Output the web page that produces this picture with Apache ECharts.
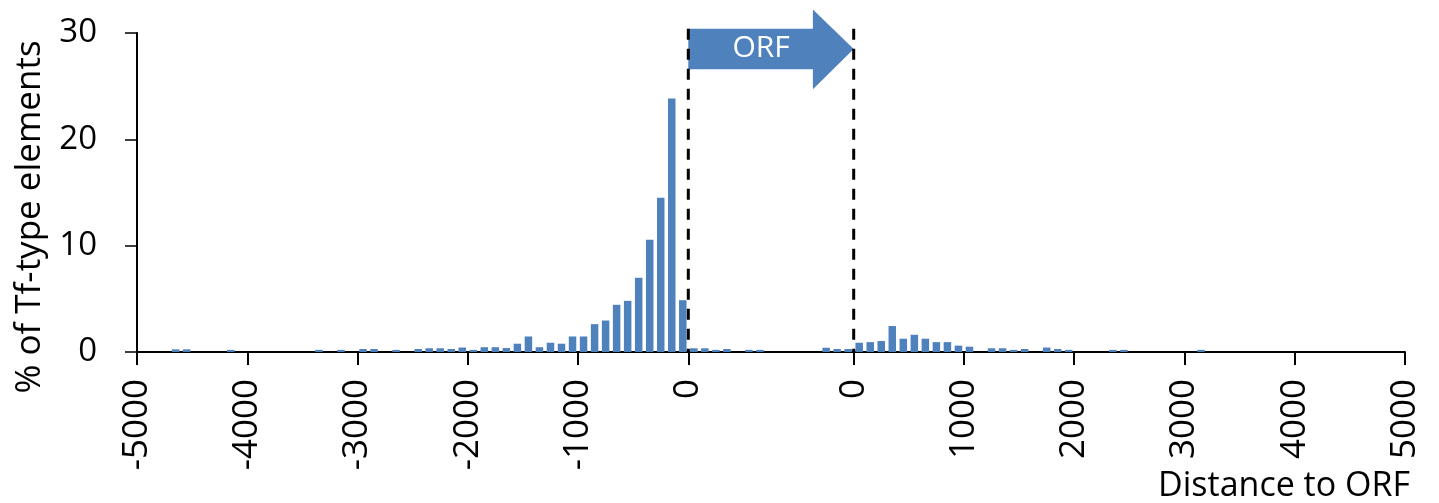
<!DOCTYPE html>
<html>
<head>
<meta charset="utf-8">
<script src="https://cdn.jsdelivr.net/npm/echarts@6/dist/echarts.min.js"></script>
<style>
html,body{margin:0;padding:0;background:#fff;}
#chart{width:1439px;height:503px;}
</style>
</head>
<body>
<div id="chart"></div>
<script>
// Bin width 100 bp; bins given by their centre distance
const ORF_LENGTH = 1500; // axis space used for the ORF gap

// Upstream of ORF start: centres -4950 ... -50
const upstreamPct = [
  0, 0, 0, 0.25, 0.25, 0, 0, 0, 0.2, 0,
  0, 0, 0, 0, 0, 0, 0.2, 0, 0.2, 0,
  0.28, 0.28, 0, 0.2, 0, 0.28, 0.35, 0.35, 0.28, 0.42,
  0.2, 0.45, 0.45, 0.37, 0.78, 1.46, 0.45, 0.87, 0.78, 1.46,
  1.46, 2.62, 2.96, 4.44, 4.81, 6.98, 10.55, 14.5, 23.85, 4.87
];
// Inside the ORF: centres 50 ... 1450
const orfPct = [
  0.35, 0.35, 0.2, 0.28, 0, 0.2, 0.2, 0, 0, 0,
  0, 0, 0.4, 0.28, 0.28
];
// Downstream of ORF end: centres 50 ... 4950
const downstreamPct = [
  0.87, 0.93, 1.03, 2.44, 1.25, 1.62, 1.25, 0.93, 0.93, 0.6,
  0.5, 0, 0.35, 0.35, 0.2, 0.28, 0, 0.42, 0.28, 0.2,
  0, 0, 0, 0.2, 0.2, 0, 0, 0, 0, 0,
  0, 0.2, 0, 0, 0, 0, 0, 0, 0, 0,
  0, 0, 0, 0, 0, 0, 0, 0, 0, 0
];
const upstreamTicks = [-5000, -4000, -3000, -2000, -1000, 0];
const downstreamTicks = [0, 1000, 2000, 3000, 4000, 5000];
const yTicks = [0, 10, 20, 30];

const BLUE = '#4F81BD';
const FONT = 'Open Sans';

const barData = [];
upstreamPct.forEach((v, i) => barData.push([-4950 + 100 * i, v]));
orfPct.forEach((v, i) => barData.push([50 + 100 * i, v]));
downstreamPct.forEach((v, i) => barData.push([ORF_LENGTH + 50 + 100 * i, v]));

const tickPositions = upstreamTicks.concat(downstreamTicks.map(t => t + ORF_LENGTH));

const chart = echarts.init(document.getElementById('chart'), null, {renderer: 'canvas'});
const option = {
  animation: false,
  backgroundColor: '#fff',
  grid: {left: 137, right: 34, top: 33, bottom: 151, containLabel: false},
  xAxis: {
    type: 'value',
    min: -5000,
    max: 5000 + ORF_LENGTH,
    splitLine: {show: false},
    axisLine: {show: true, onZero: false, lineStyle: {color: '#000', width: 2}},
    axisTick: {show: true, inside: false, length: 13, lineStyle: {color: '#000', width: 2}, customValues: tickPositions},
    axisLabel: {
      customValues: tickPositions,
      rotate: 90,
      margin: 27,
      color: '#000',
      fontFamily: FONT,
      fontSize: 35,
      formatter: v => String(v <= 0 ? v : v - ORF_LENGTH)
    }
  },
  yAxis: {
    type: 'value',
    min: yTicks[0],
    max: yTicks[yTicks.length - 1],
    interval: 10,
    splitLine: {show: false},
    axisLine: {show: true, onZero: false, lineStyle: {color: '#000', width: 2}},
    axisTick: {show: true, inside: false, length: 12, lineStyle: {color: '#000', width: 1.5}},
    axisLabel: {margin: 40, color: '#000', fontFamily: FONT, fontSize: 33}
  },
  series: [{
    type: 'bar',
    data: barData,
    barWidth: 7.5,
    itemStyle: {color: BLUE}
  }]
};
chart.setOption(option);

// ORF arrow and ORF boundaries drawn in data space
const p = (x, y) => chart.convertToPixel({gridIndex: 0}, [x, y]);
const a0 = p(0, 30.4), a1 = p(1130, 30.4), a2 = p(1130, 32.2), tip = p(ORF_LENGTH, 28.5),
      a3 = p(1130, 24.7), a4 = p(1130, 26.6), a5 = p(0, 26.6);
const mid = p(660, 28.5);
const s0b = p(0, 0), s0t = p(0, 30.4), s1b = p(ORF_LENGTH, 0), s1t = p(ORF_LENGTH, 30.4);
const dash = {stroke: '#000', lineWidth: 3, lineDash: [11, 9]};
chart.setOption({
  graphic: [
    {
      type: 'polygon',
      shape: {points: [a0, a1, a2, tip, a3, a4, a5]},
      style: {fill: BLUE},
      z: 1
    },
    {
      type: 'text',
      x: mid[0], y: mid[1],
      style: {text: 'ORF', fill: '#fff', font: '30px "Open Sans"', align: 'center', verticalAlign: 'middle'},
      z: 2
    },
    {
      type: 'line',
      shape: {x1: s0t[0], y1: s0t[1], x2: s0b[0], y2: s0b[1]},
      style: dash, z: 3
    },
    {
      type: 'line',
      shape: {x1: s1t[0], y1: s1t[1], x2: s1b[0], y2: s1b[1]},
      style: dash, z: 3
    },
    {
      type: 'text',
      x: 30, y: 217,
      rotation: Math.PI / 2,
      style: {text: '% of Tf-type elements', fill: '#000', font: '35px "Open Sans"', align: 'center', verticalAlign: 'middle'},
      z: 2
    },
    {
      type: 'text',
      x: 1410, y: 486,
      style: {text: 'Distance to ORF', fill: '#000', font: '34px "Open Sans"', align: 'right', verticalAlign: 'middle'},
      z: 2
    }
  ]
});
</script>
</body>
</html>
